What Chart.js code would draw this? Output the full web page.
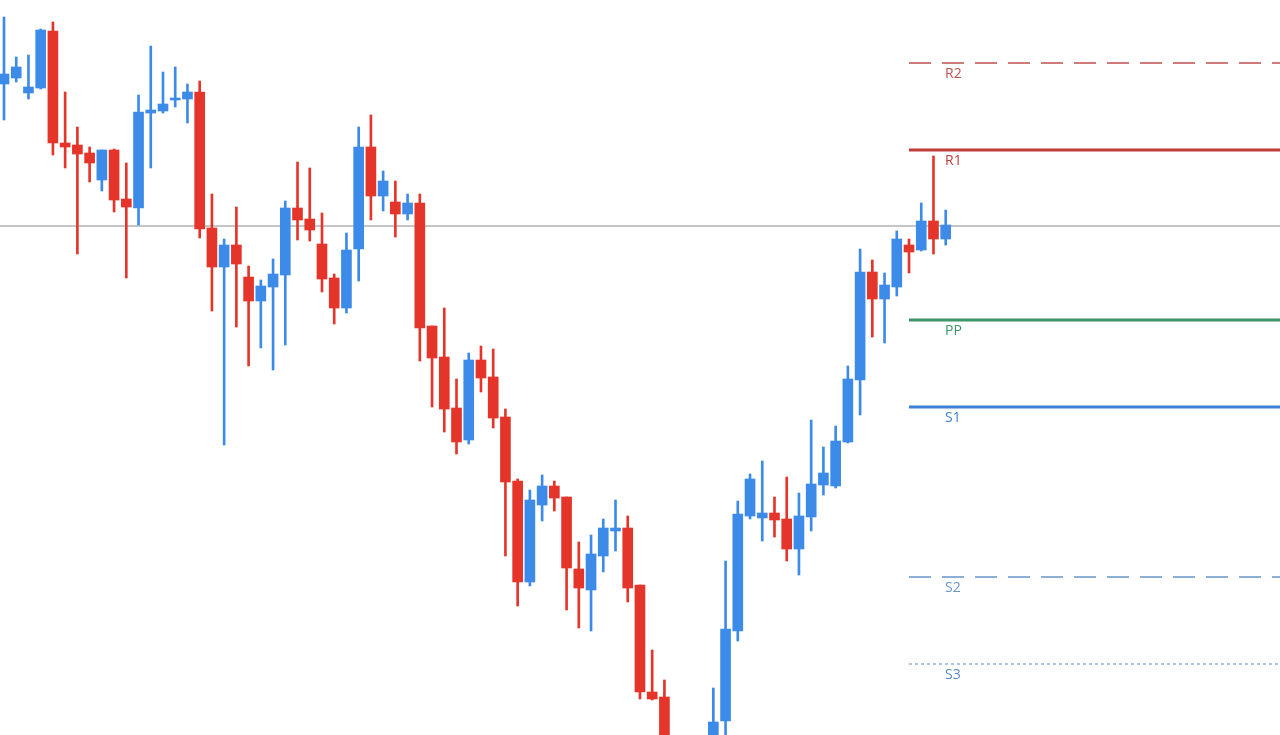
<!DOCTYPE html>
<html>
<head>
<meta charset="utf-8">
<script src="https://cdn.jsdelivr.net/npm/chart.js@4"></script>
<style>
html,body{margin:0;padding:0;background:#fff;overflow:hidden}
#wrap{width:1280px;height:735px}
</style>
</head>
<body>
<div id="wrap"><canvas id="c" width="1280" height="735"></canvas></div>
<script>
// candle values (price units), index 1..78
const opens=[916,922,907,912,969,857,855,847,820,850,801,792,887,889,900,901,908,772,733,755,723,699,713,725,792,781,756,722,692,751,853,804,798,786,797,674,643,592,560,640,623,583,519,418,495,514,503,431,410,444,469,472,415,308,303,250,210,230,240,279,369,484,482,487,481,451,483,515,514,558,620,728,701,713,755,750,779,761]
const closes=[926,933,913,970,857,853,846,837,850,800,793,888,890,896,902,908,771,733,755,736,699,714,726,792,780,770,721,692,750,853,804,819,786,797,672,642,591,558,640,622,582,518,418,500,514,502,432,412,446,472,472,412,308,301,250,210,230,255,278,371,486,521,487,480,451,484,516,527,559,621,728,701,715,761,748,779,761,775]
const highs=[983,943,945,971,978,908,873,853,850,851,837,905,954,928,933,916,919,806,761,793,734,720,741,799,838,832,787,726,767,873,885,829,819,806,806,674,692,621,647,654,651,591,521,510,525,519,503,458,465,481,500,484,415,350,320,258,240,260,312,439,499,526,539,503,523,507,580,553,574,634,751,740,727,769,761,797,844,790]
const lows=[880,918,901,911,845,832,746,818,809,788,722,775,832,887,893,877,762,689,555,673,634,652,630,655,760,759,708,676,687,719,780,789,763,780,639,593,568,546,556,608,572,444,394,414,479,489,390,372,369,428,449,398,301,300,235,200,190,220,230,240,359,481,459,463,439,425,469,505,512,557,585,663,657,704,727,749,746,755]

// pivot levels
const levelNames=["R2","R1","PP","S1","S2","S3"]
const levelValues=[937,850,680,593,423,336]
const levelColors=["#c0504d","#c23b3b","#3d9466","#3b7fd6","#6a95c8","#5b8ac5"]
const levelWidths=[1.5,3,3,3,1.5,1.2]
const levelDash=[[22,11],[],[],[],[22,11],[3,3]]
const currentPrice=774
const pivotStart=75

const UP="#3d8be8",DOWN="#e5352a"
const xMin=0.673,xMax=0.673+1280/12.23

const idx=opens.map((_,i)=>i+1)
const col=idx.map((_,i)=>closes[i]>=opens[i]?UP:DOWN)

const datasets=[
{type:"bar",data:idx.map((x,i)=>({x:x,y:[lows[i],highs[i]]})),backgroundColor:col,barThickness:2,grouped:false,order:2},
{type:"bar",data:idx.map((x,i)=>({x:x,y:[opens[i],closes[i]===opens[i]?opens[i]+1:closes[i]]})),backgroundColor:col,barThickness:10,grouped:false,order:1},
{type:"line",data:[{x:xMin,y:currentPrice},{x:xMax,y:currentPrice}],borderColor:"#8c8c8c",borderWidth:1.2,pointRadius:0,order:3}
]
levelNames.forEach((n,i)=>{
datasets.push({type:"line",data:[{x:pivotStart,y:levelValues[i]},{x:xMax,y:levelValues[i]}],borderColor:levelColors[i],borderWidth:levelWidths[i],borderDash:levelDash[i],pointRadius:0,order:0})
})

const labelPlugin={
id:"levelLabels",
afterDatasetsDraw(ch){
const ctx=ch.ctx,xs=ch.scales.x,ys=ch.scales.y
ctx.save()
ctx.font="14px 'Open Sans', Arial, sans-serif"
ctx.textBaseline="middle"
levelNames.forEach((n,i)=>{
ctx.fillStyle=levelColors[i]
ctx.fillText(n,xs.getPixelForValue(pivotStart)+36,ys.getPixelForValue(levelValues[i])+11)
})
ctx.restore()
}
}

new Chart(document.getElementById("c"),{
data:{datasets:datasets},
options:{
responsive:false,animation:false,
layout:{padding:0},
plugins:{legend:{display:false},tooltip:{enabled:false}},
scales:{
x:{type:"linear",min:xMin,max:xMax,offset:false,display:false},
y:{min:265,max:1000,display:false}
}
},
plugins:[labelPlugin]
})
</script>
</body>
</html>
